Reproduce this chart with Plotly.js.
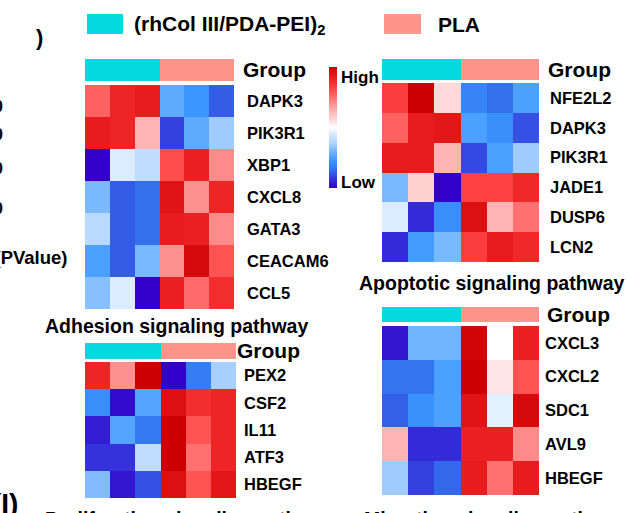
<!DOCTYPE html>
<html><head><meta charset="utf-8">
<script src="https://cdn.plot.ly/plotly-3.0.1.min.js"></script>
<style>html,body{margin:0;padding:0;background:#fff;overflow:hidden}</style>
</head><body><div id="chart" style="width:628px;height:513px"></div>
<script>
// ---------- data ----------
const samples = ['S1','S2','S3','S4','S5','S6'];
const groupCodes = [[0,0,0,1,1,1]];
const groupLabel = ['Group'];
const groupNames = ['(rhCol III/PDA-PEI)<sub>2</sub>', 'PLA'];

const adhesionGenes = ['DAPK3','PIK3R1','XBP1','CXCL8','GATA3','CEACAM6','CCL5'];
const adhesionZ = [
  [0.55, 0.80, 0.85, -0.45, -0.55, -0.75],
  [0.85, 0.80, 0.28, -0.82, -0.45, -0.30],
  [-1.00, -0.10, -0.20, 0.62, 0.82, 0.42],
  [-0.38, -0.75, -0.70, 0.90, 0.40, 0.80],
  [-0.22, -0.75, -0.70, 0.85, 0.82, 0.42],
  [-0.50, -0.75, -0.38, 0.40, 0.95, 0.60],
  [-0.35, -0.10, -1.00, 0.82, 0.52, 0.75]
];
const apoptoticGenes = ['NFE2L2','DAPK3','PIK3R1','JADE1','DUSP6','LCN2'];
const apoptoticZ = [
  [0.68, 1.00, 0.12, -0.62, -0.70, -0.50],
  [0.55, 0.85, 0.88, -0.50, -0.58, -0.78],
  [0.85, 0.85, 0.28, -0.80, -0.50, -0.30],
  [-0.38, 0.15, -1.00, 0.66, 0.66, 0.78],
  [-0.10, -0.88, -0.58, 0.92, 0.28, 0.50],
  [-0.88, -0.52, -0.38, 0.68, 0.85, 0.78]
];
const proliferationGenes = ['PEX2','CSF2','IL11','ATF3','HBEGF'];
const proliferationZ = [
  [0.80, 0.40, 1.00, -1.00, -0.65, -0.28],
  [-0.58, -0.97, -0.48, 0.92, 0.75, 0.80],
  [-0.92, -0.48, -0.66, 1.00, 0.60, 0.80],
  [-0.86, -0.86, -0.20, 1.00, 0.50, 0.80],
  [-0.36, -0.94, -0.78, 0.92, 0.60, 0.88]
];
const migrationGenes = ['CXCL3','CXCL2','SDC1','AVL9','HBEGF'];
const migrationZ = [
  [-0.94, -0.40, -0.40, 0.97, 0.00, 0.82],
  [-0.68, -0.68, -0.50, 1.00, 0.08, 0.60],
  [-0.74, -0.57, -0.50, 0.90, -0.08, 0.95],
  [0.28, -0.88, -0.88, 0.82, 0.82, 0.42],
  [-0.30, -0.82, -0.72, 0.85, 0.50, 0.85]
];
const panelTitles = ['Adhesion signaling pathway','Apoptotic signaling pathway',
                     'Proliferation signaling pathway','Migration signaling pathway'];

// ---------- styling ----------
const W = 628, H = 513;
const FONT = 'Liberation Sans, Arial, Helvetica, sans-serif';
const CYAN = '#05d8de', PINK = '#fe948c';
const heatScale = [
  [0,'#3200c8'],[0.075,'#3535dc'],[0.15,'#3370ec'],[0.225,'#3a96ff'],
  [0.3,'#70b4ff'],[0.36,'#a8d0ff'],[0.45,'#dcecff'],[0.5,'#ffffff'],
  [0.55,'#ffdede'],[0.64,'#ffb4b4'],[0.7,'#ff9090'],[0.775,'#ff6060'],
  [0.825,'#ff4444'],[0.89,'#f02828'],[0.95,'#e01414'],[1,'#cc0000']
];
const groupScale = [[0,CYAN],[0.5,CYAN],[0.5,PINK],[1,PINK]];

const px = x => x / W;
const py = y => 1 - y / H;

// panel geometry (pixels): x0,x1, group bar y0,y1, cells y0,y1, label standoffs
const panels = [
  {genes: adhesionGenes, z: adhesionZ, x0:85, x1:234, g0:59, g1:81, c0:85, c1:309, gOff:8, cOff:12},
  {genes: apoptoticGenes, z: apoptoticZ, x0:382, x1:539, g0:59, g1:80, c0:83, c1:262, gOff:8, cOff:10},
  {genes: proliferationGenes, z: proliferationZ, x0:85, x1:236, g0:343, g1:359, c0:362, c1:498, gOff:0, cOff:7},
  {genes: migrationGenes, z: migrationZ, x0:382, x1:539, g0:307, g1:322, c0:326, c1:495, gOff:7, cOff:5}
];

const data = [];
const layout = {
  width: W, height: H,
  margin: {l:0, r:0, t:0, b:0},
  paper_bgcolor: '#fff', plot_bgcolor: '#fff',
  showlegend: false,
  font: {family: FONT, color: '#000'},
  annotations: [], shapes: []
};

panels.forEach((p, i) => {
  const gi = 2*i + 1, hi = 2*i + 2;
  const gx = 'x' + (gi === 1 ? '' : gi), gy = 'y' + (gi === 1 ? '' : gi);
  const hx = 'x' + hi, hy = 'y' + hi;
  data.push({
    type: 'heatmap', z: groupCodes, x: samples, y: groupLabel,
    xaxis: gx, yaxis: gy, colorscale: groupScale, zmin: 0, zmax: 1,
    showscale: false, hoverinfo: 'skip'
  });
  const hm = {
    type: 'heatmap', z: p.z, x: samples, y: p.genes,
    xaxis: hx, yaxis: hy, colorscale: heatScale, zmin: -1, zmax: 1,
    showscale: i === 0, hoverinfo: 'skip'
  };
  if (i === 0) {
    hm.colorbar = {
      x: px(329), xanchor: 'left', y: py(67), yanchor: 'top',
      len: 121, lenmode: 'pixels', thickness: 8, thicknessmode: 'pixels',
      outlinewidth: 0, showticklabels: false, ticks: '', xpad: 0, ypad: 0
    };
  }
  data.push(hm);
  const xk = n => 'xaxis' + (n === 1 ? '' : n);
  const yk = n => 'yaxis' + (n === 1 ? '' : n);
  const xBase = {domain: [px(p.x0), px(p.x1)], visible: false, fixedrange: true};
  layout[xk(gi)] = Object.assign({anchor: gy}, xBase);
  layout[xk(hi)] = Object.assign({anchor: hy}, xBase);
  layout[yk(gi)] = {
    domain: [py(p.g1), py(p.g0)], anchor: gx, side: 'right', type: 'category',
    showgrid: false, zeroline: false, showline: false,
    ticks: '', ticklabelstandoff: p.gOff,
    tickfont: {family: FONT, size: 21, weight: 'bold', color: '#000'}
  };
  layout[yk(hi)] = {
    domain: [py(p.c1), py(p.c0)], anchor: hx, side: 'right', type: 'category',
    autorange: 'reversed',
    showgrid: false, zeroline: false, showline: false,
    ticks: '', ticklabelstandoff: p.cOff,
    tickfont: {family: FONT, size: 16.5, weight: 'bold', color: '#000'}
  };
});

function ann(text, x, y, size, xanchor, extra) {
  return Object.assign({
    text: text, xref: 'paper', yref: 'paper', x: px(x), y: py(y),
    xanchor: xanchor || 'center', yanchor: 'middle', showarrow: false,
    font: {family: FONT, size: size, weight: 'bold', color: '#000'}
  }, extra || {});
}

// panel titles
layout.annotations.push(ann(panelTitles[0], 176, 326, 19.5));
layout.annotations.push(ann(panelTitles[1], 492, 283, 19.5));
layout.annotations.push(ann(panelTitles[2], 43, 519, 19.5, 'left'));
layout.annotations.push(ann(panelTitles[3], 362, 519, 19.5, 'left'));

// colorbar labels
layout.annotations.push(ann('High', 339, 77, 17, 'left'));
layout.annotations.push(ann('Low', 339, 182, 17, 'left'));

// group legend
layout.shapes.push({type:'rect', xref:'paper', yref:'paper', x0:px(87), x1:px(123), y0:py(34), y1:py(14), fillcolor:CYAN, line:{width:0}});
layout.shapes.push({type:'rect', xref:'paper', yref:'paper', x0:px(384), x1:px(421), y0:py(34), y1:py(14), fillcolor:PINK, line:{width:0}});
layout.annotations.push(ann(groupNames[0], 132, 25, 21, 'left'));
layout.annotations.push(ann(groupNames[1], 436, 24, 21, 'left'));

// cut-off fragments from neighbouring panels
layout.annotations.push(ann(')', 45, 37, 22, 'right'));
['10','20','30','40'].forEach((t, k) => {
  layout.annotations.push(ann(t, 5, [107,135,168,208][k], 17, 'right'));
});
layout.annotations.push(ann('-log10(PValue)', 69, 257, 18.5, 'right'));
layout.annotations.push(ann('(I)', 20, 503, 28, 'right'));

Plotly.newPlot('chart', data, layout, {staticPlot: true, displayModeBar: false});
</script>
</body></html>
